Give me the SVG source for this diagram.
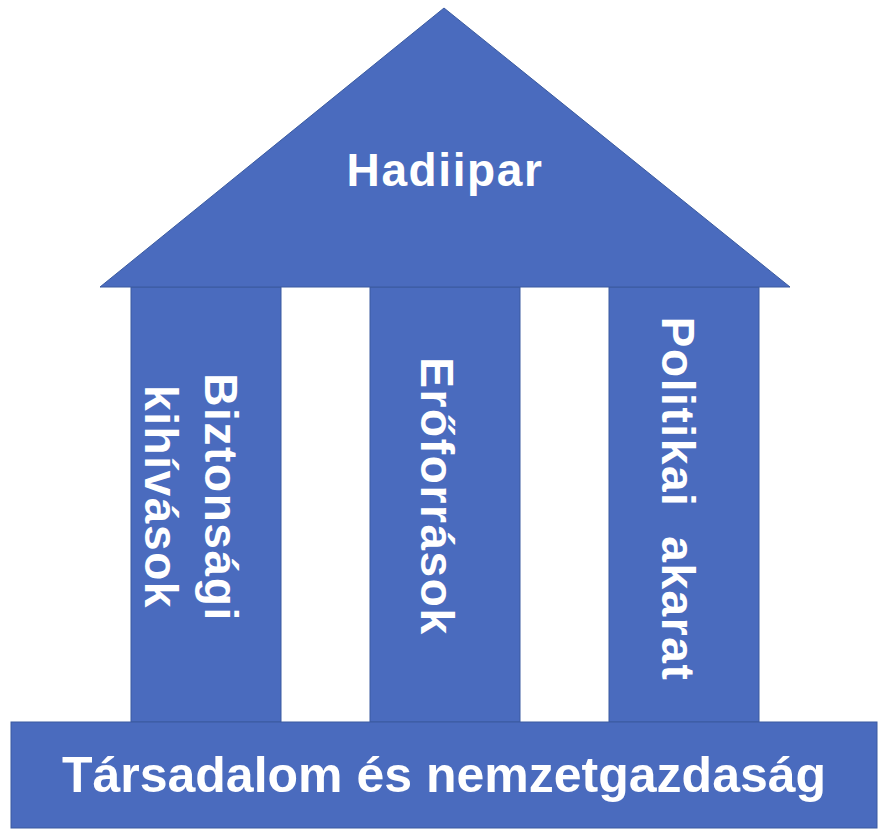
<svg xmlns="http://www.w3.org/2000/svg" width="888" height="836" viewBox="0 0 888 836">
  <style>
    .shape { fill: #4A6BBE; stroke: #3B5BA0; stroke-width: 1; }
    .lbl { fill: #FFFFFF; font-family: "Liberation Sans", Arial, sans-serif; font-weight: bold; font-size: 46px; letter-spacing: 1.6px; text-anchor: middle; }
    .base { fill: #FFFFFF; font-family: "Liberation Sans", Arial, sans-serif; font-weight: bold; font-size: 50px; text-anchor: middle; }
  </style>
  <rect width="888" height="836" fill="#FFFFFF"/>
  <g id="pillar-biztonsagi">
    <rect class="shape" x="131" y="287" width="150" height="435"/>
    <text class="lbl" transform="translate(205,497.5) rotate(90)">Biztonsági</text>
    <text class="lbl" transform="translate(145,497) rotate(90)">kihívások</text>
  </g>
  <g id="pillar-eroforrasok">
    <rect class="shape" x="370" y="287" width="150" height="435"/>
    <text class="lbl" transform="translate(421,496.5) rotate(90)">Erőforrások</text>
  </g>
  <g id="pillar-politikai">
    <rect class="shape" x="609" y="287" width="150" height="435"/>
    <text class="lbl" transform="translate(662,499) rotate(90)">Politikai &#160;akarat</text>
  </g>
  <g id="roof-hadiipar">
    <polygon class="shape" points="100,287 444,8 790,287"/>
    <text class="lbl" x="445" y="186">Hadiipar</text>
  </g>
  <g id="base-tarsadalom">
    <rect class="shape" x="11" y="722" width="866" height="106"/>
    <text class="base" x="444" y="792">Társadalom és nemzetgazdaság</text>
  </g>
  <g id="connectors"/>
</svg>
